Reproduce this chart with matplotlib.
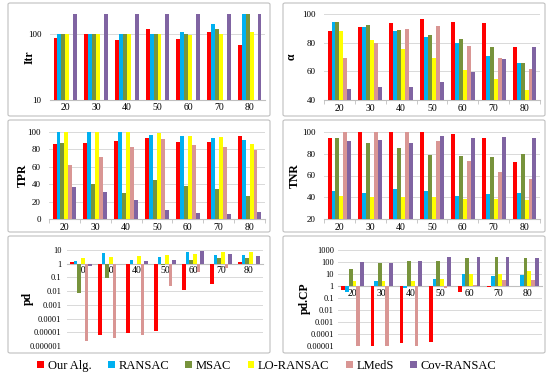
import matplotlib
matplotlib.use("Agg")
import matplotlib.pyplot as plt
from matplotlib.patches import FancyBboxPatch, Patch
import numpy as np

plt.rcParams['font.family'] = ['Liberation Serif', 'DejaVu Serif']

groups = ["20", "30", "40", "50", "60", "70", "80"]
methods = ["Our Alg.", "RANSAC", "MSAC", "LO-RANSAC", "LMedS", "Cov-RANSAC"]
colors = ["#FF0000", "#00B0F0", "#77933C", "#FFFF00", "#D99694", "#8064A2"]

nan = np.nan
itr = [
    [87, 100, 82, 119, 83, 105, 67],
    [100, 100, 100, 100, 108, 143, 200],
    [100, 100, 100, 98, 100, 118, 200],
    [100, 100, 100, 98, 97, 98, 107],
    [nan, nan, nan, nan, nan, nan, nan],
    [200, 200, 200, 200, 200, 200, 200],
]
alpha = [
    [88, 91.2, 94, 96.3, 94.7, 93.5, 76.7],
    [94.3, 91, 88, 84, 79.5, 70.7, 65.6],
    [94.5, 92, 89, 85, 82.3, 76.7, 66],
    [88, 81.9, 75.3, 69, 61, 54.7, 47],
    [69.5, 79.8, 89.5, 91.9, 77.7, 69, 61.4],
    [47.7, 48.8, 49, 52.6, 59.8, 68.6, 77.2],
]
tpr = [
    [86.5, 87.3, 90, 92.7, 88.8, 88.8, 95.8],
    [100, 100, 99.5, 96, 95.4, 92.7, 90.4],
    [87.7, 40, 30.4, 45, 37.7, 34.6, 26.2],
    [100, 100, 100, 98.5, 95.4, 93.8, 85.8],
    [62.3, 71, 83, 92, 84.6, 82.3, 79.6],
    [37, 30.8, 22, 10, 7, 6.2, 7.7],
]
tnr = [
    [94.5, 100, 100, 100, 98.5, 94.8, 72.6],
    [46.2, 44.3, 47.7, 45.8, 41.5, 43.4, 44],
    [94.5, 89.5, 85.2, 78.5, 77.5, 76.6, 79.4],
    [41, 40, 40, 40, 38.5, 38.5, 37.2],
    [100, 100, 100, 92, 73.2, 63.5, 57],
    [92, 92.6, 89.8, 96.3, 94.8, 95.7, 94.2],
]
pd_vals = [
    [1.3, 6.6e-6, 8.7e-6, 1.15e-5, 0.013, 0.036, 1.25],
    [1.5, 5.9, 1.95, 2.9, 6.6, 4.5, 4.5],
    [0.0068, 0.092, 0.9, 0.75, 1.95, 2.7, 2.4],
    [2.7, 3.0, 3.6, 4.5, 5.3, 6.6, 6.6],
    [2.5e-6, 3.8e-6, 5.9e-6, 0.024, 0.25, 0.49, 0.9],
    [0.72, 1.0, 1.65, 1.95, 8.4, 5.3, 3.4],
]
pdcp = [
    [0.46, 1e-6, 1.7e-5, 2.1e-5, 0.3, 0.9, 1.0],
    [0.34, 2.8, 0.64, 3.8, 10, 6.4, 8.2],
    [28, 88, 130, 115, 200, 245, 230],
    [2.4, 2.4, 2.8, 3.8, 10, 10.6, 19],
    [1e-6, 1e-6, 1e-6, 0.72, 1.2, 3.4, 3.2],
    [100, 88, 115, 245, 245, 280, 230],
]

W, H = 550, 380
fig = plt.figure(figsize=(W / 100, H / 100), dpi=100)


def box(l, t, r, b):
    return [l / W, 1 - b / H, (r - l) / W, (b - t) / H]


# chart borders
for l, t, r, b in [(8, 3, 270, 116), (283, 3, 545, 116),
                   (8, 120, 270, 232), (283, 120, 545, 232),
                   (8, 236, 270, 353), (283, 236, 545, 353)]:
    fig.patches.append(FancyBboxPatch((l / W, 1 - b / H), (r - l) / W, (b - t) / H,
                                      boxstyle="round,pad=0,rounding_size=0.004",
                                      transform=fig.transFigure, fill=False,
                                      edgecolor="#BFBFBF", linewidth=0.8))

x = np.arange(len(groups))
bw = 0.128


def panel(rect, data, label, ylim, ticks, ticklabels, log=False, base=None,
          ylab_x=None, ysize=6.5, ypad=6):
    ax = fig.add_axes(box(*rect))
    if log:
        ax.set_yscale("log")
    for i, vals in enumerate(data):
        vals = np.array(vals, dtype=float)
        xs = x + (i - 2.5) * bw
        if base is None:
            ax.bar(xs, vals, bw, color=colors[i], zorder=3)
        else:
            ax.bar(xs, vals - base, bw, bottom=base, color=colors[i], zorder=3)
    ax.set_ylim(*ylim)
    ax.set_xlim(-0.5, len(groups) - 0.5)
    ax.set_yticks(ticks)
    ax.set_yticklabels(ticklabels)
    ax.minorticks_off()
    ax.yaxis.grid(True, color="#D9D9D9", linewidth=0.7, zorder=0)
    for s in ["top", "right"]:
        ax.spines[s].set_visible(False)
    ax.spines["left"].set_visible(False)
    ax.spines["bottom"].set_color("#BFBFBF")
    ax.spines["bottom"].set_linewidth(0.8)
    ax.tick_params(axis="y", length=0, labelsize=ysize, pad=ypad)
    ax.set_xticks(x)
    ax.set_xticklabels(groups)
    ax.set_xticks(np.arange(len(groups) + 1) - 0.5, minor=True)
    ax.tick_params(axis="x", which="major", length=0, labelsize=7, pad=3)
    ax.tick_params(axis="x", which="minor", length=3, color="#BFBFBF")
    if base is not None:
        ax.spines["bottom"].set_position(("data", base))
        ax.tick_params(axis="x", which="minor", length=0)
        ax.tick_params(axis="x", which="major", pad=2)
    ax.set_ylabel(label, fontweight="bold", fontsize=8.5)
    if ylab_x is not None:
        ax.yaxis.set_label_coords(ylab_x, 0.5)
    return ax


panel((50, 14, 265, 100), itr, "Itr", (10, 200), [10, 100], ["10", "100"],
      log=True, base=10, ylab_x=-0.065)
panel((324, 14, 540, 100), alpha, "α", (40, 100), [40, 60, 80, 100],
      ["40", "60", "80", "100"], ylab_x=-0.12)
panel((49, 132, 265, 219), tpr, "TPR", (0, 100), [0, 20, 40, 60, 80, 100],
      ["0", "20", "40", "60", "80", "100"], ylab_x=-0.093)
panel((324, 132, 540, 219), tnr, "TNR", (20, 100), [20, 40, 60, 80, 100],
      ["20", "40", "60", "80", "100"], ylab_x=-0.106)
panel((67, 250, 263, 346), pd_vals, "pd", (1e-6, 10),
      [1e-6, 1e-5, 1e-4, 1e-3, 1e-2, 0.1, 1, 10],
      ["0.000001", "0.00001", "0.0001", "0.001", "0.01", "0.1", "1", "10"],
      log=True, base=1, ylab_x=-0.17, ysize=6, ypad=4)
panel((338, 250, 542, 346), pdcp, "pd.CP", (1e-5, 1000),
      [1e-5, 1e-4, 1e-3, 1e-2, 0.1, 1, 10, 100, 1000],
      ["0.00001", "0.0001", "0.001", "0.01", "0.1", "1", "10", "100", "1000"],
      log=True, base=1, ylab_x=-0.135, ysize=6, ypad=3)

handles = [Patch(facecolor=c, edgecolor="none") for c in colors]
fig.legend(handles, methods, loc="center", bbox_to_anchor=(0.485, 1 - 366 / H),
           ncol=6, frameon=False, fontsize=9, handlelength=0.55, handleheight=0.55,
           handletextpad=0.3, columnspacing=1.3)

fig.savefig("out.png", dpi=100)
